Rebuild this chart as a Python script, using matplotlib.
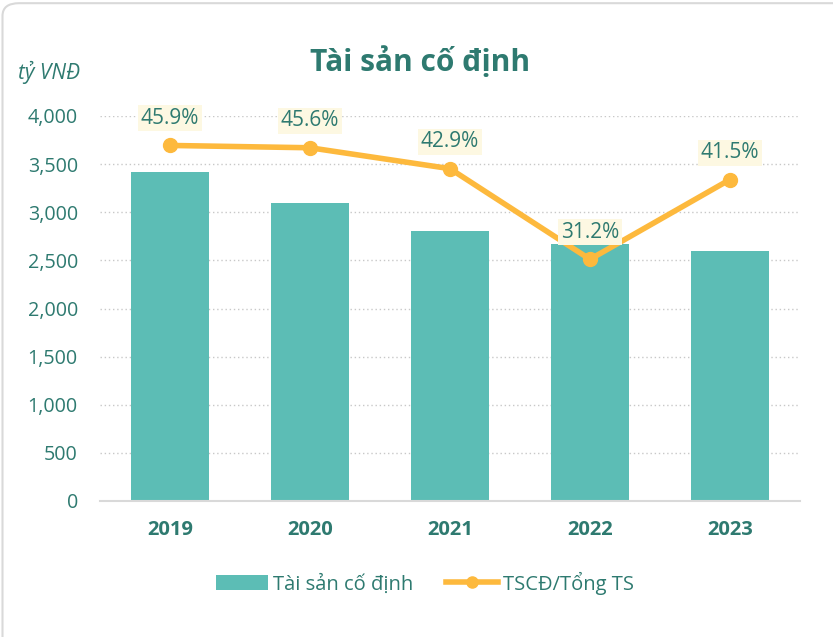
import matplotlib
matplotlib.use("Agg")
import matplotlib.pyplot as plt
from matplotlib.patches import FancyBboxPatch
from matplotlib.lines import Line2D
from matplotlib.patches import Patch

plt.rcParams['font.family'] = ['Open Sans', 'DejaVu Sans']

years = ["2019", "2020", "2021", "2022", "2023"]
assets = [3418, 3093, 2805, 2670, 2597]
ratio = [45.9, 45.6, 42.9, 31.2, 41.5]
yticks = [0, 500, 1000, 1500, 2000, 2500, 3000, 3500, 4000]

teal = "#5CBDB5"
orange = "#FDB93D"
txt = "#2E7A70"

fig = plt.figure(figsize=(8.33, 6.37), dpi=100)
card = FancyBboxPatch((0.003, -0.05), 1.05, 1.045, boxstyle="round,pad=0,rounding_size=0.02",
                      transform=fig.transFigure, facecolor="white", edgecolor="#D9D9D9", lw=1.5, zorder=-10)
fig.patches.append(card)

ax = fig.add_axes([100/833, 1-501/637, 700/833, 385/637])
ax.patch.set_alpha(0)
x = list(range(len(years)))
ax.bar(x, assets, width=0.557, color=teal, zorder=2)
ax.set_xlim(-0.5, 4.5)
ax.set_ylim(0, 4000)
ax.set_yticks(yticks)
ax.set_yticklabels([f"{v:,}" for v in yticks], color=txt, fontsize=14.2)
ax.set_xticks(x)
ax.set_xticklabels(years, color=txt, fontsize=14.5, fontweight="bold")
ax.tick_params(axis="both", length=0)
ax.tick_params(axis="y", pad=16)
ax.tick_params(axis="x", pad=14)
ax.grid(axis="y", linestyle=(0, (1, 2)), color="#C8C8C8", lw=1, zorder=0)
ax.set_axisbelow(True)
for s in ["top", "right", "left"]:
    ax.spines[s].set_visible(False)
ax.spines["bottom"].set_color("#D9D9D9")
ax.spines["bottom"].set_linewidth(1.5)
ax.spines["bottom"].set_zorder(3)

ax2 = ax.twinx()
ax2.set_ylim(0, 49.7)
ax2.plot(x, ratio, color=orange, lw=4, marker="o", markersize=10, zorder=4, solid_capstyle="round")
ax2.axis("off")
for xi, r in zip(x, ratio):
    ax2.annotate(f"{r:.1f}%", (xi, r), xytext=(0, 27), textcoords="offset pixels",
                 ha="center", va="center", fontsize=15, color=txt, annotation_clip=False, zorder=6,
                 bbox=dict(boxstyle="square,pad=0.12", facecolor="#FDF8E2", edgecolor="none"))

fig.text(420/833, 1-62/637, "Tài sản cố định", ha="center", va="center", fontsize=21.5,
         fontweight="bold", color=txt)
fig.text(18/833, 1-72/637, "tỷ VNĐ", ha="left", va="center", fontsize=15, style="italic", color=txt)

handles = [Patch(facecolor=teal, edgecolor="none"),
           Line2D([0], [0], color=orange, lw=4, marker="o", markersize=8)]
fig.legend(handles, ["Tài sản cố định", "TSCĐ/Tổng TS"], loc="center", bbox_to_anchor=(425/833, 1-583/637),
           ncol=2, frameon=False, fontsize=14.5, labelcolor=txt, handlelength=2.6, columnspacing=1.6,
           handletextpad=0.25)

fig.savefig("out.png", dpi=100)
